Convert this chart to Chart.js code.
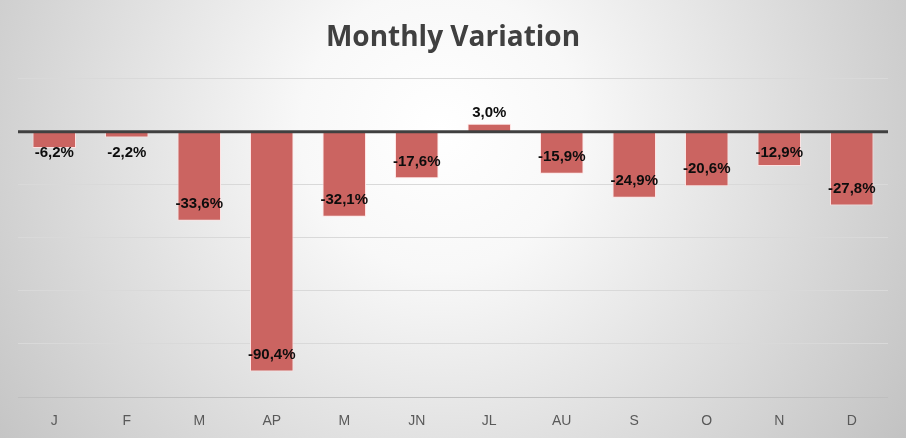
<!DOCTYPE html>
<html>
<head>
<meta charset="utf-8">
<script src="https://cdn.jsdelivr.net/npm/chart.js@4"></script>
<style>
  html, body { margin: 0; padding: 0; background: #fff; }
  #wrap { width: 906px; height: 438px; }
</style>
</head>
<body>
<div id="wrap"><canvas id="myChart" width="906" height="438"></canvas></div>
<script>
'use strict';

let months = ['J', 'F', 'M', 'AP', 'M', 'JN', 'JL', 'AU', 'S', 'O', 'N', 'D'];
let variation = [-6.2, -2.2, -33.6, -90.4, -32.1, -17.6, 3.0, -15.9, -24.9, -20.6, -12.9, -27.8];
let yTicks = [20, 0, -20, -40, -60, -80, -100];

function fmt(v){
    return v.toFixed(1).replace('.', ',') + '%';
}

// grey radial background like the office chart style
let bgPlugin = {
    id: 'bg',
    beforeDraw(chart){
        let ctx = chart.ctx;
        let g = ctx.createRadialGradient(440, 130, 0, 440, 130, 560);
        g.addColorStop(0, '#ffffff');
        g.addColorStop(0.25, '#f8f8f8');
        g.addColorStop(1, '#c2c2c2');
        ctx.save();
        ctx.fillStyle = g;
        ctx.fillRect(0, 0, chart.width, chart.height);
        ctx.restore();
    }
};

// zero line on top of bars + value labels
let labelPlugin = {
    id: 'labels',
    afterDatasetsDraw(chart){
        let ctx = chart.ctx;
        let y = chart.scales.y;
        let area = chart.chartArea;
        let zero = y.getPixelForValue(0);
        ctx.save();
        ctx.strokeStyle = '#404040';
        ctx.lineWidth = 3;
        ctx.beginPath();
        ctx.moveTo(area.left, zero);
        ctx.lineTo(area.right, zero);
        ctx.stroke();

        ctx.font = 'bold 15px "Liberation Sans", Arial, sans-serif';
        ctx.fillStyle = '#0d0d0d';
        ctx.textAlign = 'center';
        ctx.textBaseline = 'middle';
        let meta = chart.getDatasetMeta(0);
        meta.data.forEach(function(bar, i){
            let v = variation[i];
            let ly;
            if (v >= 0){
                ly = bar.y - 11;
            } else {
                ly = Math.max(bar.y - 17, zero + 21);
            }
            ctx.fillText(fmt(v), bar.x, ly);
        });
        ctx.restore();
    }
};

let ctx = document.getElementById('myChart').getContext('2d');
let chart = new Chart(ctx, {
    type: 'bar',
    data: {
        labels: months,
        datasets: [{
            data: variation,
            backgroundColor: '#cb6461',
            borderColor: 'rgba(255, 225, 225, 0.9)',
            borderWidth: 1,
            barPercentage: 0.6,
            categoryPercentage: 1
        }]
    },
    options: {
        responsive: false,
        animation: false,
        layout: { padding: { left: 18, right: 18, top: 0, bottom: 0 } },
        plugins: {
            legend: { display: false },
            tooltip: { enabled: false },
            title: {
                display: true,
                text: 'Monthly Variation',
                color: '#404040',
                font: { family: '"Open Sans", "Liberation Sans", sans-serif', size: 28, weight: 'bold' },
                padding: { top: 21, bottom: 24 }
            }
        },
        scales: {
            x: {
                grid: { display: false, drawTicks: false },
                border: { display: false },
                afterFit(axis){
                    axis.height = 41;
                },
                ticks: {
                    color: '#595959',
                    font: { family: '"Liberation Sans", Arial, sans-serif', size: 14 },
                    padding: 16
                }
            },
            y: {
                min: -100,
                max: 20,
                afterBuildTicks(axis){
                    axis.ticks = yTicks.map(function(v){ return { value: v }; });
                },
                ticks: { display: false },
                border: { display: false },
                grid: {
                    drawTicks: false,
                    color: function(c){
                        if (c.tick && c.tick.value === -100) return '#bfbfbf';
                        return '#d9d9d9';
                    },
                    lineWidth: 1
                }
            }
        }
    },
    plugins: [bgPlugin, labelPlugin]
});
</script>
</body>
</html>
